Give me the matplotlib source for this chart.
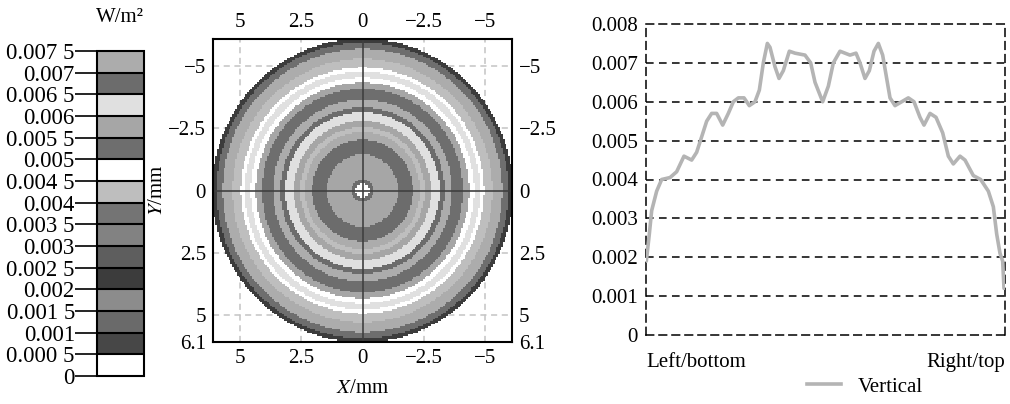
import numpy as np
import matplotlib
matplotlib.use("Agg")
import matplotlib.pyplot as plt
from matplotlib.colors import ListedColormap, BoundaryNorm
from matplotlib.lines import Line2D

plt.rcParams["font.family"] = ["Liberation Serif", "DejaVu Serif"]
plt.rcParams["mathtext.fontset"] = "stix"

# colour scale (W/m^2), 15 bands
level_edges = [0.0, 0.0005, 0.001, 0.0015, 0.002, 0.0025, 0.003, 0.0035, 0.004,
               0.0045, 0.005, 0.0055, 0.006, 0.0065, 0.007, 0.0075]
level_labels = ["0", "0.000 5", "0.001", "0.001 5", "0.002", "0.002 5", "0.003",
                "0.003 5", "0.004", "0.004 5", "0.005", "0.005 5", "0.006",
                "0.006 5", "0.007", "0.007 5"]
band_colours = ["#ffffff", "#474747", "#6a6a6a", "#8c8c8c", "#3c3c3c", "#5e5e5e",
                "#828282", "#747474", "#bebebe", "#ffffff", "#6e6e6e", "#a6a6a6",
                "#e0e0e0", "#6c6c6c", "#acacac"]

# irradiance map: concentric rings (outer radius in mm, irradiance)
ring_outer_mm = [0.3, 0.45, 1.45, 2.05, 2.35, 2.55, 2.8, 3.15, 3.35, 3.65, 4.1,
                 4.35, 4.55, 4.8, 4.95, 5.3, 5.7, 5.95, 6.12]
ring_level = [0.0047, 0.0067, 0.0057, 0.0067, 0.0072, 0.0042, 0.0057, 0.0062,
              0.0067, 0.0072, 0.0052, 0.0057, 0.0047, 0.0062, 0.0047, 0.0042,
              0.0072, 0.0052, 0.0022]
map_ticks = [-5, -2.5, 0, 2.5, 5]
map_tick_labels = ["\u22125", "\u22122.5", "0", "2.5", "5"]
map_y_ticks = [-5, -2.5, 0, 2.5, 5, 6.1]
map_y_labels = ["\u22125", "\u22122.5", "0", "2.5", "5", "6.1"]

# vertical profile (position across detector in %, irradiance W/m^2)
prof_pos = [0.09, 0.93, 1.58, 2.97, 4.36, 6.69, 8.54, 10.58, 12.72, 14.11, 15.51,
            16.90, 18.29, 19.68, 21.36, 22.93, 24.33, 25.72, 27.30, 28.78, 30.36,
            31.57, 32.68, 33.80, 34.54, 35.93, 37.05, 38.25, 39.93, 41.50, 44.29,
            45.87, 47.08, 49.21, 50.79, 52.18, 54.04, 56.82, 58.50, 59.61, 61.00,
            62.21, 63.51, 64.72, 65.92, 67.04, 67.97, 69.36, 71.22, 73.07, 74.65,
            76.32, 77.44, 79.11, 80.78, 82.64, 84.22, 85.61, 87.47, 88.86, 91.18,
            93.22, 95.36, 96.75, 97.68, 98.61, 99.35, 99.72]
prof_val = [0.0019, 0.0026, 0.0032, 0.0037, 0.0040, 0.00405, 0.0042, 0.0046, 0.0045,
            0.0047, 0.0051, 0.0055, 0.0057, 0.0057, 0.0054, 0.0057, 0.0060, 0.0061,
            0.0061, 0.0059, 0.0060, 0.0063, 0.0070, 0.0075, 0.0074, 0.0069, 0.0066,
            0.0068, 0.0073, 0.00725, 0.0072, 0.0070, 0.0065, 0.0060, 0.0064, 0.0070,
            0.0073, 0.0072, 0.00725, 0.0070, 0.0066, 0.0068, 0.0073, 0.0075, 0.0072,
            0.0066, 0.0061, 0.0059, 0.0060, 0.0061, 0.0060, 0.0056, 0.0054, 0.0057,
            0.0056, 0.0052, 0.0046, 0.0044, 0.0046, 0.0045, 0.0041, 0.0040, 0.0037,
            0.0033, 0.0026, 0.0021, 0.0019, 0.0012]
prof_yticks = [0, 0.001, 0.002, 0.003, 0.004, 0.005, 0.006, 0.007, 0.008]
prof_ylabels = ["0", "0.001", "0.002", "0.003", "0.004", "0.005", "0.006", "0.007", "0.008"]

W, H = 1010, 404
fig = plt.figure(figsize=(W / 100, H / 100), dpi=100)


def px_axes(x0, y0, x1, y1):
    return fig.add_axes([x0 / W, 1 - y1 / H, (x1 - x0) / W, (y1 - y0) / H])


cmap = ListedColormap(band_colours)
norm = BoundaryNorm(level_edges, cmap.N)

# --- irradiance map ---
ax = px_axes(213, 39, 512, 342)
g = np.linspace(-6.1, 6.1, 181)
X, Y = np.meshgrid(g, g)
R = np.hypot(X, Y)
idx = np.searchsorted(ring_outer_mm, R)
field = np.array(ring_level + [np.nan])[np.minimum(idx, len(ring_level))]
for t in [-5, -2.5, 2.5, 5]:
    ax.axvline(t, color="#c4c4c4", lw=1.1, ls=(0, (4, 3)), zorder=0)
    ax.axhline(t, color="#c4c4c4", lw=1.1, ls=(0, (4, 3)), zorder=0)
mesh = ax.pcolormesh(X, Y, field, cmap=cmap, norm=norm, shading="nearest", zorder=1)
ax.axvline(0, color="#404040", lw=1.2, zorder=2)
ax.axhline(0, color="#404040", lw=1.2, zorder=2)
ax.set_xlim(6.1, -6.1)
ax.set_ylim(6.1, -6.1)
ax.set_xticks(map_ticks)
ax.set_xticklabels(map_tick_labels)
ax.set_yticks(map_y_ticks)
ax.set_yticklabels(map_y_labels)
ax.tick_params(labelsize=15, length=0, pad=5, top=True, labeltop=True,
               right=True, labelright=True)
for s in ax.spines.values():
    s.set_linewidth(1.5)
ax.set_xlabel("$\\mathit{X}$/mm", fontsize=15, labelpad=8)
ax.set_ylabel("$\\mathit{Y}$/mm", fontsize=15)
ax.yaxis.set_label_coords(-0.155, 0.5)

# --- colour bar ---
cax = px_axes(97, 51, 144, 376)
cb = fig.colorbar(mesh, cax=cax, boundaries=level_edges, ticks=level_edges,
                  drawedges=True, spacing="uniform")
cb.outline.set_linewidth(1.5)
cb.dividers.set_color("black")
cb.dividers.set_linewidth(1.5)
cax.yaxis.set_ticks_position("left")
cax.set_yticks(level_edges)
cax.set_yticklabels(level_labels)
cax.tick_params(labelsize=16.5, length=16, width=1.2, pad=0)
fig.text(120 / W, 1 - 17 / H, "W/m\u00b2", ha="center", va="center", fontsize=15)

# --- vertical profile ---
ax2 = px_axes(646, 24, 1005, 335)
ax2.plot(prof_pos, prof_val, color="#b4b4b4", lw=2.6, zorder=3,
         solid_joinstyle="round", solid_capstyle="round")
ax2.set_xlim(0, 100)
ax2.set_ylim(0, 0.008)
ax2.set_yticks(prof_yticks)
ax2.set_yticklabels(prof_ylabels)
ax2.set_xticks([])
ax2.tick_params(labelsize=15, length=0, pad=6)
for t in prof_yticks[1:-1]:
    ax2.axhline(t, color="black", lw=1.1, ls=(0, (5, 3.5)), zorder=1)
for s in ax2.spines.values():
    s.set_linestyle((0, (5, 3.5)))
    s.set_linewidth(1.1)
ax2.text(0, -0.087, "Left/bottom", transform=ax2.transAxes, ha="left",
         va="center", fontsize=15)
ax2.text(1, -0.087, "Right/top", transform=ax2.transAxes, ha="right",
         va="center", fontsize=15)
ax2.legend([Line2D([], [], color="#b4b4b4", lw=2.6)], ["Vertical"],
           loc="center", bbox_to_anchor=(865 / W, 1 - 387 / H),
           bbox_transform=fig.transFigure, frameon=False, fontsize=15,
           handlelength=1.6, handletextpad=0.8)

fig.savefig("out.png", dpi=100)
